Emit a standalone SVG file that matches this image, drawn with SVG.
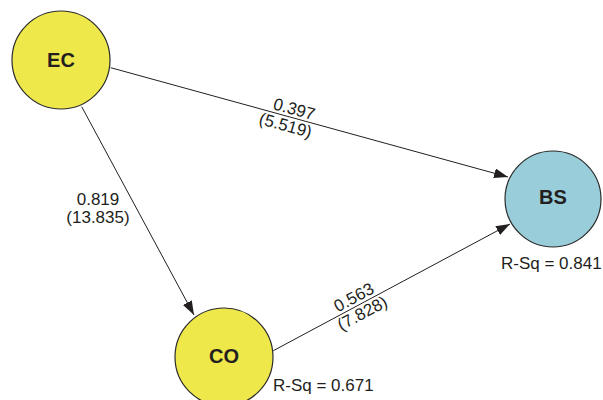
<svg xmlns="http://www.w3.org/2000/svg" width="603" height="400" viewBox="0 0 603 400">
<defs>
<style>
.node{stroke:#2b2b2b;stroke-width:1.2}
.yel{fill:#eee84a}
.blu{fill:#98cdd9}
.nl{font-family:"Liberation Sans",Arial,sans-serif;font-weight:bold;font-size:20px;fill:#231f20;text-anchor:middle}
.lb{font-family:"Liberation Sans",Arial,sans-serif;font-size:17px;fill:#231f20}
.c{text-anchor:middle}
.edge{stroke:#231f20;stroke-width:1;fill:none;marker-end:url(#arr)}
</style>
<marker id="arr" markerUnits="userSpaceOnUse" markerWidth="15" markerHeight="10" refX="14" refY="5" orient="auto">
<path d="M0,0 L14,5 L0,10 z" fill="#231f20"/>
</marker>
</defs>
<rect width="603" height="400" fill="#ffffff"/>
<g id="connectors">
<line class="edge" x1="110.7" y1="67.7" x2="508" y2="177"/>
<line class="edge" x1="81.7" y1="106.7" x2="194" y2="315"/>
<line class="edge" x1="273.3" y1="350.7" x2="510" y2="224"/>
<g transform="translate(290,117) rotate(15.4)">
<text class="lb c" x="2" y="-3">0.397</text>
<text class="lb c" x="-2" y="15">(5.519)</text>
</g>
<text class="lb c" x="98" y="205">0.819</text>
<text class="lb c" x="98" y="223">(13.835)</text>
<g transform="translate(358,305) rotate(-28.2)">
<text class="lb c" x="0" y="-3">0.563</text>
<text class="lb c" x="0" y="15">(7.828)</text>
</g>
</g>
<g id="EC">
<circle class="node yel" cx="61" cy="60" r="49"/>
<text class="nl" x="61" y="66.5">EC</text>
</g>
<g id="CO">
<circle class="node yel" cx="224" cy="357" r="49"/>
<text class="nl" x="224" y="362.7">CO</text>
<text class="lb" x="273" y="390.5">R-Sq = 0.671</text>
</g>
<g id="BS">
<circle class="node blu" cx="553" cy="199" r="48"/>
<text class="nl" x="553" y="204.3">BS</text>
<text class="lb" x="501" y="269">R-Sq = 0.841</text>
</g>
</svg>
